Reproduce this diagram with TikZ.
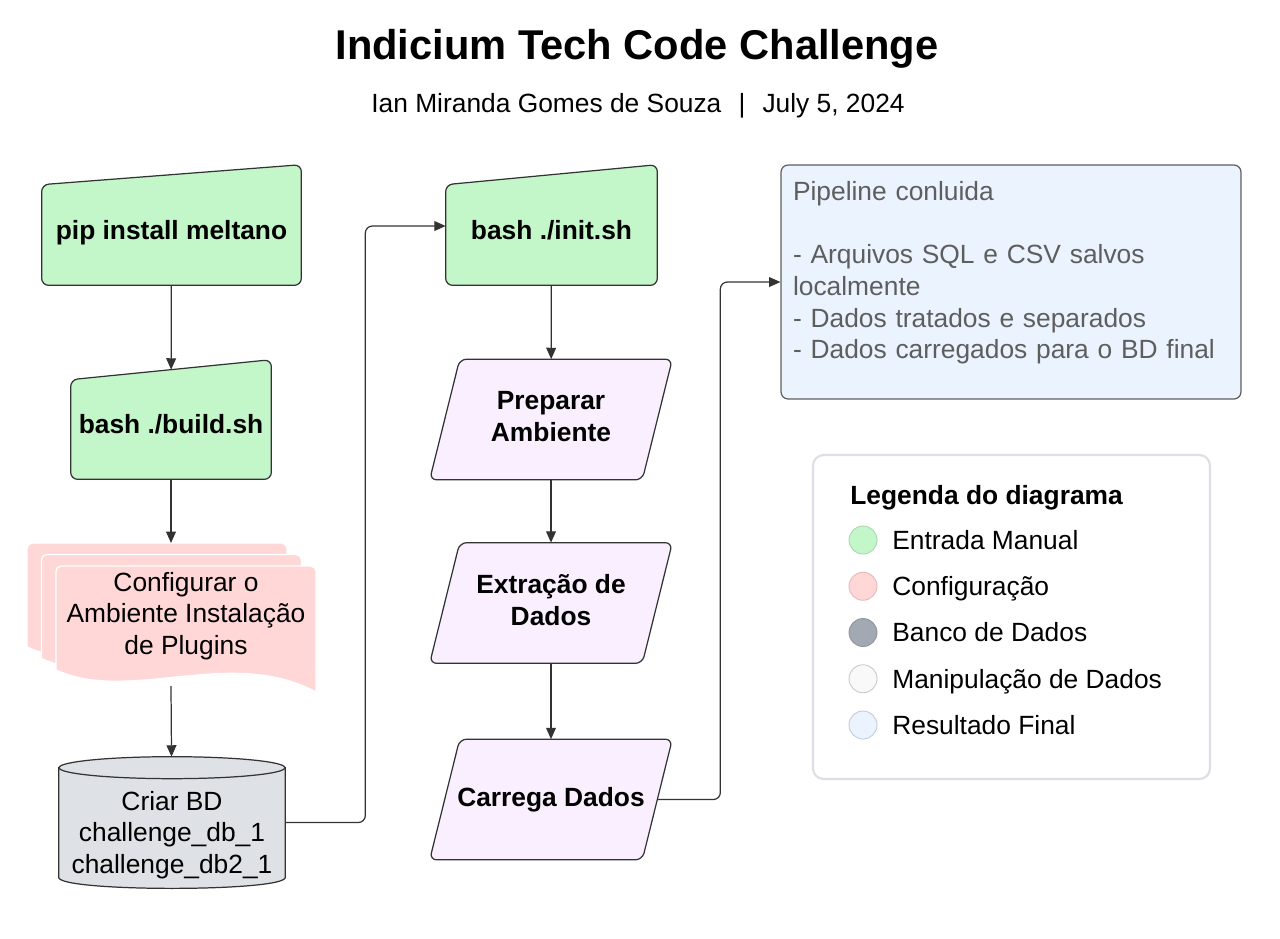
\documentclass[tikz,border=0pt]{standalone}
\usepackage{fontspec}
\setmainfont{Liberation Sans}
\usetikzlibrary{arrows.meta,calc,backgrounds}

\definecolor{inputgreen}{HTML}{C3F7C9}
\definecolor{configpink}{HTML}{FFD7D7}
\definecolor{dbgray}{HTML}{DEE1E6}
\definecolor{procviolet}{HTML}{F9EFFE}
\definecolor{resultblue}{HTML}{EAF3FE}
\definecolor{lineclr}{HTML}{333333}
\definecolor{legline}{HTML}{DCDFE4}
\definecolor{softtext}{HTML}{5E5E5E}

\tikzset{
	txt/.style={font=\fontsize{15}{18}\selectfont, align=center, inner sep=0pt},
	boldtxt/.style={txt, font=\fontsize{15}{18}\selectfont\bfseries},
	oneline/.style={boldtxt, text height=10.7pt, text depth=0pt},
	shapeline/.style={draw=lineclr, line width=0.7pt},
	proc/.style={boldtxt, minimum width=4.24cm, minimum height=2.4cm},
	flow/.style={draw=lineclr, line width=0.7pt, rounded corners=4pt,
		-{Triangle[length=6.5pt, width=5.6pt]}},
	legdot/.style={circle, minimum size=0.56cm, inner sep=0pt, line width=0.5pt},
	legtxt/.style={txt, anchor=west, text height=10.7pt, text depth=0pt},
}

% manual input shape drawn from the node box
\newcommand{\maninshape}[1]{%
	\draw[shapeline, fill=inputgreen, rounded corners=4pt] (#1.south west) -- ($(#1.north west)+(0,10)$)
	-- ($(#1.north east)+(0,-10)$) -- (#1.south east) -- cycle;}
% slanted data box round the node box
\newcommand{\procshape}[1]{%
	\draw[shapeline, fill=procviolet, rounded corners=4pt] ($(#1.south west)+(-15,0)$) -- ($(#1.north west)+(15,0)$)
	-- ($(#1.north east)+(15,0)$) -- ($(#1.south east)+(-15,0)$) -- cycle;}

\begin{document}
\begin{tikzpicture}[x=0.02cm, y=-0.02cm]
	\useasboundingbox (0,0) rectangle (1280,938);

	\node[txt, anchor=base, font=\fontsize{23.7}{28}\selectfont\bfseries] (title) at (637,59.5) {Indicium Tech Code Challenge};
	\node[txt, anchor=base] (subtitle) at (638,112) {Ian Miranda Gomes de Souza\hspace{0.65em}|\hspace{0.65em}July 5, 2024};

	% left column
	\node[oneline, minimum width=5.18cm, minimum height=2.2cm] (pip) at (171.5,230) {pip install meltano};
	\node[oneline, minimum width=4cm, minimum height=2.18cm] (build) at (171,424.5) {bash ./build.sh};
	\node[txt] (cfg) at (186,616) {Configurar o\\Ambiente Instalação\\de Plugins};
	\coordinate (cfgin) at (171,543);
	\coordinate (cfgout) at (171,686);
	\node[txt, minimum width=4.52cm, minimum height=2.62cm] (db) at (172,822.5)
		{\rule{0pt}{25pt}Criar BD\\challenge\_db\_1\\challenge\_db2\_1};

	% middle column
	\node[oneline, minimum width=4.22cm, minimum height=2.2cm] (init) at (551.5,230) {bash ./init.sh};
	\node[proc] (prep) at (551,419.5) {Preparar\\Ambiente\rule[-3.5pt]{0pt}{3.5pt}};
	\node[proc] (extr) at (551,603) {Extração de\\Dados\rule[-3.5pt]{0pt}{3.5pt}};
	\node[proc] (carr) at (551,799.5) {Carrega Dados};

	% result
	\node[txt, align=left, text=softtext, shapeline, draw=softtext, fill=resultblue, rounded corners=4pt,
		minimum width=9.2cm, minimum height=4.68cm, text width=8.72cm, inner xsep=0.24cm] (res) at (1011,282)
		{Pipeline conluida\\[18pt]- Arquivos SQL e CSV salvos\\localmente\\- Dados tratados e separados\\- Dados carregados para o BD final\rule[-13.6pt]{0pt}{13.6pt}};

	% legend
	\node[draw=legline, line width=1.2pt, rounded corners=6pt, minimum width=7.94cm, minimum height=6.48cm] (leg) at (1011.5,617) {};
	\node[legtxt, font=\fontsize{15}{18}\selectfont\bfseries] (legtitle) at (850,495) {Legenda do diagrama};
	\foreach \fc/\dc/\lbl [count=\i] in {C3F7C9/A6D8AC/Entrada Manual, FFD7D7/E3B8B8/Configuração,
		A3A9B3/8F959E/Banco de Dados, F9F9F9/C9C9C9/Manipulação de Dados, EAF3FE/C1CCD9/Resultado Final}{
		\definecolor{dotfill}{HTML}{\fc}
		\definecolor{dotline}{HTML}{\dc}
		\node[legdot, fill=dotfill, draw=dotline] (dot\i) at (863,{540+46.25*(\i-1)}) {};
		\node[legtxt] (item\i) at (892,{540+46.25*(\i-1)}) {\lbl};
	}

	\begin{pgfonlayer}{background}
		\fill[white] (0,0) rectangle (1280,938);
		\maninshape{pip}
		\maninshape{build}
		\maninshape{init}
		\procshape{prep}
		\procshape{extr}
		\procshape{carr}
		% stacked sheets
		\foreach \dx/\dy in {-29/-23, -14.5/-11.5, 0/0}{
			\path[fill=configpink, draw=white, line width=0.8pt]
				[rounded corners=3pt] ($(cfg.center)+(\dx-130,\dy+54)$) -- ($(cfg.center)+(\dx-130,\dy-50)$)
				-- ($(cfg.center)+(\dx+130,\dy-50)$) [sharp corners] -- ($(cfg.center)+(\dx+130,\dy+76)$)
				.. controls ($(cfg.center)+(\dx+44,\dy+30)$) and ($(cfg.center)+(\dx-56,\dy+88)$) .. cycle;
		}
		% database
		\path[shapeline, fill=dbgray] ($(db.north west)+(0,11)$) -- ($(db.south west)+(0,-11)$)
			.. controls +(0,14.7) and +(0,14.7) .. ($(db.south east)+(0,-11)$) -- ($(db.north east)+(0,11)$) -- cycle;
		\draw[shapeline, fill=dbgray] ($(db.north)+(0,11)$) ellipse [x radius=2.26cm, y radius=0.22cm];
	\end{pgfonlayer}

	\path (pip) edge[flow] (build)
		(build) edge[flow] (cfgin)
		(cfgout) edge[flow] (db)
		(init) edge[flow] (prep)
		(prep) edge[flow] (extr)
		(extr) edge[flow] (carr);
	\draw[flow] (db.east) -- ++(80,0) |- ($(init.west)+(0,-4)$);
	\draw[flow] (carr.east) -- ++(63,0) |- (res.west);

\end{tikzpicture}
\end{document}
